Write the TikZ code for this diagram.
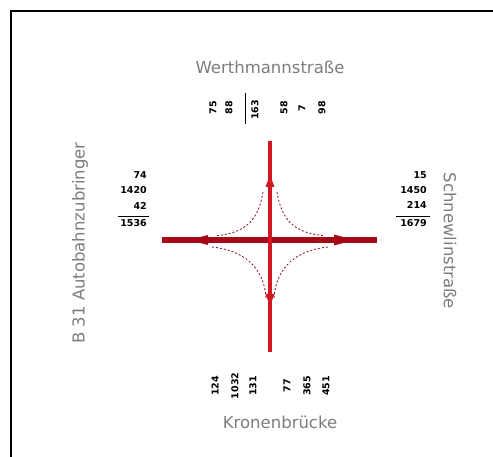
\documentclass[tikz,border=0pt]{standalone}
\usepackage{fontspec}
\setmainfont{DejaVu Sans}
\usetikzlibrary{arrows.meta}
\definecolor{roadred}{RGB}{165,10,25}
\definecolor{armred}{RGB}{210,25,35}
\definecolor{namegray}{RGB}{125,125,125}
\tikzset{
  street/.style={font=\fontsize{16.5}{18}\selectfont, text=namegray, inner sep=0pt},
  count/.style={font=\fontsize{9.5}{11}\selectfont\bfseries, inner sep=0pt},
  turn/.style={draw=roadred!85!black, line width=0.8pt, dash pattern=on 2pt off 2pt}
}
\begin{document}
\begin{tikzpicture}[x=1pt,y=-1pt]
\useasboundingbox (0,0) rectangle (493,457);
\draw[line width=2pt] (11,460) -- (11,11) -- (496,11);
% arms of the junction
\coordinate (w) at (162,240);
\coordinate (e) at (377,240);
\coordinate (n) at (270,141);
\coordinate (s) at (270,352);
\draw[roadred, line width=6pt] (w) -- (e);
\draw[armred, line width=3.5pt] (n) -- (s);
\fill[roadred] (189,240) -- (208,235) -- (208,245) -- cycle;
\fill[roadred] (354,240) -- (334,234.5) -- (334,245.5) -- cycle;
\fill[armred] (270,175) -- (274.5,187) -- (265.5,187) -- cycle;
\fill[armred] (270,306) -- (274.5,294) -- (265.5,294) -- cycle;
% turning flows
\draw[turn] (263,192) .. controls (258,224) and (242,233) .. (215,236);
\draw[turn] (277,192) .. controls (282,224) and (298,233) .. (325,236);
\draw[turn] (212,247) .. controls (242,250) and (264,266) .. (266,298);
\draw[turn] (328,247) .. controls (298,250) and (276,266) .. (274,298);
% street names
\node[street] (nname) at (270,67) {Werthmannstraße};
\node[street] (sname) at (280,422) {Kronenbrücke};
\node[street, rotate=90] (wname) at (80,243) {B 31 Autobahnzubringer};
\node[street, rotate=-90] (ename) at (450,241) {Schnewlinstraße};
% counts west
\node[count, anchor=east] (w1) at (147,175) {74};
\node[count, anchor=east] (w2) at (147,190) {1420};
\node[count, anchor=east] (w3) at (147,206) {42};
\node[count, anchor=east] (w4) at (147,223) {1536};
\draw[line width=0.4pt] (w4.north west) ++(-2,-3) -- ++(31,0);
% counts east
\node[count, anchor=east] (e1) at (427,175) {15};
\node[count, anchor=east] (e2) at (427,190) {1450};
\node[count, anchor=east] (e3) at (427,205) {214};
\node[count, anchor=east] (e4) at (427,223) {1679};
\draw[line width=0.4pt] (e4.north west) ++(-4,-3) -- ++(34,0);
% counts north
\node[count, rotate=90] (n1) at (213,108) {75};
\node[count, rotate=90] (n2) at (229,108) {88};
\node[count, rotate=90] (n3) at (255,110) {163};
\draw[line width=0.6pt] (245,93) -- (245,124);
\node[count, rotate=90] (n4) at (284,108) {58};
\node[count, rotate=90] (n5) at (302,108) {7};
\node[count, rotate=90] (n6) at (322,108) {98};
% counts south
\node[count, rotate=90] (s1) at (215,386) {124};
\node[count, rotate=90] (s2) at (235,386) {1032};
\node[count, rotate=90] (s3) at (253,386) {131};
\node[count, rotate=90] (s4) at (287,386) {77};
\node[count, rotate=90] (s5) at (307,386) {365};
\node[count, rotate=90] (s6) at (326,386) {451};
\end{tikzpicture}
\end{document}
